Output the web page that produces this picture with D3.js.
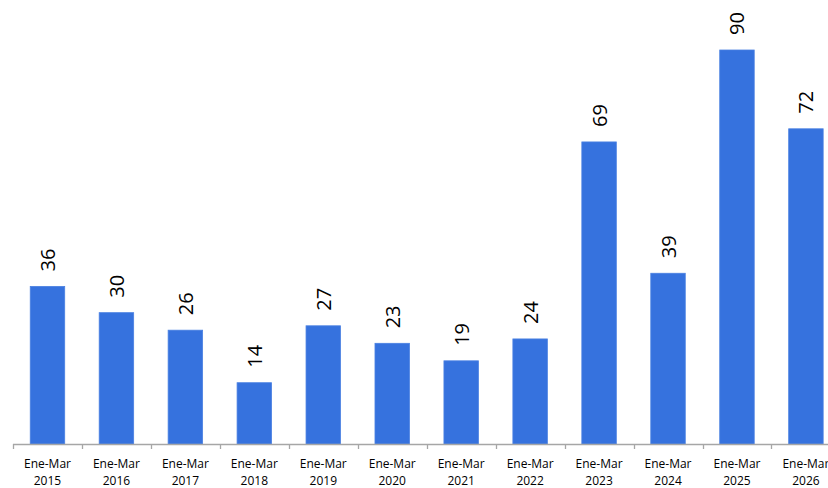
<!DOCTYPE html>
<html><head><meta charset="utf-8">
<script src="https://cdn.jsdelivr.net/npm/d3@7"></script>
<style>html,body{margin:0;padding:0;background:#fff;}svg{display:block;}</style>
</head><body>
<svg id="chart" width="828" height="488"></svg>
<script>
const periods = ["Ene-Mar","Ene-Mar","Ene-Mar","Ene-Mar","Ene-Mar","Ene-Mar","Ene-Mar","Ene-Mar","Ene-Mar","Ene-Mar","Ene-Mar","Ene-Mar"];
const years = ["2015","2016","2017","2018","2019","2020","2021","2022","2023","2024","2025","2026"];
const values = [36,30,26,14,27,23,19,24,69,39,90,72];

const svg = d3.select("#chart");
const font = "'Open Sans', sans-serif";
const x = d3.scaleBand().domain(years).range([13, 840.4]).paddingInner(0.5).paddingOuter(0.25);
const y = d3.scaleLinear().domain([0, 90]).range([444, 50]);
const step = x.step();

// bars
svg.selectAll("rect.bar").data(values).join("rect")
  .attr("class","bar")
  .attr("x",(d,i)=>x(years[i]))
  .attr("width",x.bandwidth())
  .attr("y",d=>y(d))
  .attr("height",d=>y(0)-y(d))
  .attr("fill","#3672DE")
  .attr("stroke","#4A80E2")
  .attr("stroke-width",0.8);

// value labels
svg.selectAll("text.val").data(values).join("text")
  .attr("class","val")
  .attr("transform",(d,i)=>`translate(${x(years[i])+x.bandwidth()/2+7.5},${y(d)-15}) rotate(-90)`)
  .attr("text-anchor","start")
  .attr("font-family",font)
  .attr("font-size",20)
  .attr("fill","#000")
  .text(d=>d);

// axis line
svg.append("line").attr("x1",13).attr("x2",828).attr("y1",y(0)+0.5).attr("y2",y(0)+0.5)
  .attr("stroke","#A6A6A6").attr("stroke-width",1.3);
// ticks at band boundaries
const bounds = years.map(c=>x(c)-step*0.25).concat([x(years[years.length-1])+x.bandwidth()+step*0.25]);
svg.selectAll("line.tick").data(bounds).join("line")
  .attr("class","tick")
  .attr("x1",d=>Math.round(d)+0.5).attr("x2",d=>Math.round(d)+0.5)
  .attr("y1",y(0)).attr("y2",y(0)+5)
  .attr("stroke","#A6A6A6").attr("stroke-width",1.3);

// category labels (two separate lines)
svg.selectAll("text.per").data(years).join("text")
  .attr("class","per")
  .attr("text-anchor","middle")
  .attr("font-family",font)
  .attr("font-size",12)
  .attr("fill","#000")
  .attr("x",d=>x(d)+x.bandwidth()/2).attr("y",468)
  .text((d,i)=>periods[i]);
svg.selectAll("text.yr").data(years).join("text")
  .attr("class","yr")
  .attr("text-anchor","middle")
  .attr("font-family",font)
  .attr("font-size",12)
  .attr("fill","#000")
  .attr("x",d=>x(d)+x.bandwidth()/2).attr("y",484.5)
  .text(d=>d);
</script>
</body></html>
